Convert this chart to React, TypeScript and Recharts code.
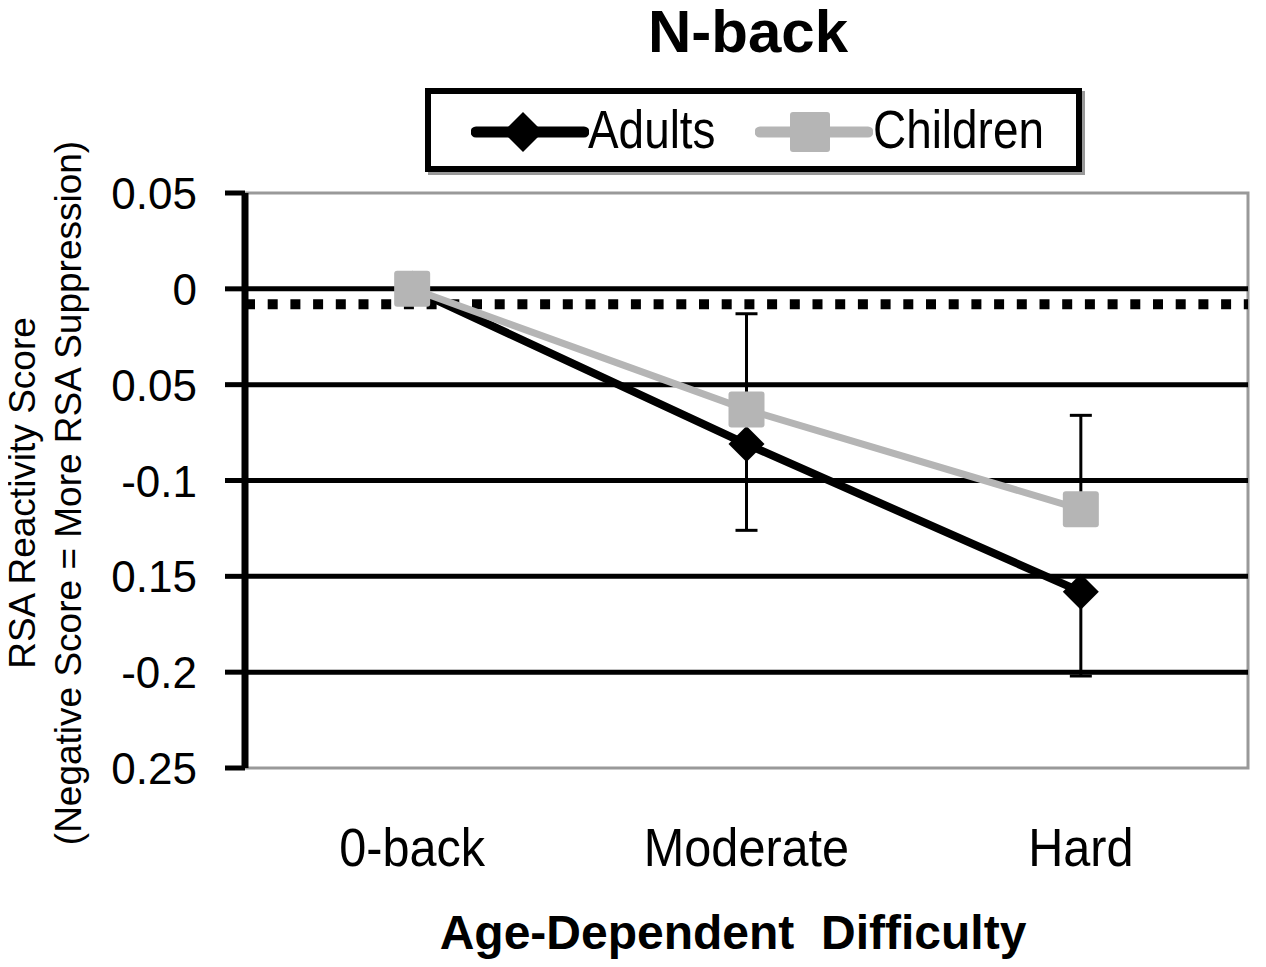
import React from 'react';
import { ComposedChart, Line, XAxis, YAxis, ReferenceLine, ReferenceArea, ErrorBar } from 'recharts';

// values
const categories = ['0-back', 'Moderate', 'Hard'];
const adults = [0, -0.081, -0.158];
const children = [0, -0.063, -0.115];
const adultsErrDown = [0, 0.045, 0.044];
const childrenErrUp = [0, 0.05, 0.049];

const yTicks = [0.05, 0, -0.05, -0.1, -0.15, -0.2, -0.25];
const yTickLabels = ['0.05', '0', '0.05', '-0.1', '0.15', '-0.2', '0.25'];
const gridValues = [0, -0.05, -0.1, -0.15, -0.2];
const dottedValue = -0.008;

const seriesNames = ['Adults', 'Children'];

const BLACK = '#000';
const GRAY = '#b5b5b5';
const SANS = "'Liberation Sans', Arial, sans-serif";

const data = categories.map((cat, i) => ({
  cat,
  adults: adults[i],
  children: children[i],
  adultsErr: [adultsErrDown[i], 0],
  childrenErr: [0, childrenErrUp[i]],
}));

function Diamond({ cx, cy, r = 18 }: any) {
  if (cx == null || cy == null) return null;
  return <polygon points={`${cx},${cy - r} ${cx + r},${cy} ${cx},${cy + r} ${cx - r},${cy}`} fill={BLACK} />;
}

function Square({ cx, cy, s = 36 }: any) {
  if (cx == null || cy == null) return null;
  return <rect x={cx - s / 2} y={cy - s / 2} width={s} height={s} rx={3} fill={GRAY} />;
}

function YTick({ x, y, payload }: any) {
  const idx = yTicks.findIndex((v) => Math.abs(v - payload.value) < 1e-9);
  return (
    <text x={x} y={y} dy={16} textAnchor="end" fontSize={44} fontFamily={SANS} fill={BLACK}>
      {yTickLabels[idx]}
    </text>
  );
}

// condensed look of the original labels
function XTick({ x, y, payload }: any) {
  return (
    <g transform={`translate(${x},${y + 98})`}>
      <text transform="scale(0.9,1)" textAnchor="middle" fontSize={54} fontFamily={SANS} fill={BLACK}>
        {payload.value}
      </text>
    </g>
  );
}

// legend item positions inside the box (px from its inner left edge)
const legendIconLeft = [40, 324];
const legendTextLeft = [157, 442];

function LegendBox() {
  return (
    <div
      style={{
        position: 'absolute',
        left: 417,
        top: 80,
        width: 657,
        height: 84,
        border: '6px solid #000',
        boxSizing: 'border-box',
        boxShadow: '3px 3px 0 #999',
        background: '#fff',
        fontFamily: SANS,
        fontSize: 54,
      }}
    >
      {seriesNames.map((name, i) => (
        <React.Fragment key={name}>
          <svg width={118} height={44} style={{ position: 'absolute', left: legendIconLeft[i], top: 16 }}>
            <line x1={5} y1={22} x2={113} y2={22} stroke={i === 0 ? BLACK : GRAY} strokeWidth={11} strokeLinecap="round" />
            {i === 0 ? <Diamond cx={52} cy={22} r={20} /> : <Square cx={55} cy={22} s={40} />}
          </svg>
          <span
            style={{
              position: 'absolute',
              left: legendTextLeft[i],
              top: 5,
              lineHeight: '60px',
              whiteSpace: 'nowrap',
              transform: 'scaleX(0.85)',
              transformOrigin: 'left center',
            }}
          >
            {name}
          </span>
        </React.Fragment>
      ))}
    </div>
  );
}

export default function App() {
  return (
    <div style={{ position: 'relative', width: 1258, height: 951 }}>
      <ComposedChart width={1258} height={951} data={data} margin={{ top: 185, right: 18, bottom: 91, left: 37 }}>
        <ReferenceArea y1={-0.25} y2={0.05} fill="none" stroke="#999" strokeWidth={3} ifOverflow="visible" />
        {gridValues.map((v) => (
          <ReferenceLine key={v} y={v} stroke={BLACK} strokeWidth={5} />
        ))}
        <ReferenceLine y={dottedValue} stroke={BLACK} strokeWidth={10} strokeDasharray="10 12.7" />
        <XAxis
          dataKey="cat"
          scale="band"
          axisLine={false}
          tickLine={false}
          tickSize={0}
          tickMargin={0}
          height={100}
          tick={<XTick />}
        />
        <YAxis
          type="number"
          domain={[-0.25, 0.05]}
          ticks={yTicks}
          interval={0}
          width={200}
          axisLine={{ stroke: BLACK, strokeWidth: 7 }}
          tickLine={{ stroke: BLACK, strokeWidth: 5 }}
          tickSize={20}
          tickMargin={28}
          tick={<YTick />}
        />
        <Line
          dataKey="adults"
          stroke={BLACK}
          strokeWidth={8}
          dot={(p: any) => <Diamond key={`a${p.index}`} cx={p.cx} cy={p.cy} />}
          activeDot={false}
          isAnimationActive={false}
        >
          <ErrorBar dataKey="adultsErr" direction="y" width={11} stroke={BLACK} strokeWidth={3} />
        </Line>
        <Line
          dataKey="children"
          stroke={GRAY}
          strokeWidth={7}
          dot={(p: any) => <Square key={`c${p.index}`} cx={p.cx} cy={p.cy} />}
          activeDot={false}
          isAnimationActive={false}
        >
          <ErrorBar dataKey="childrenErr" direction="y" width={11} stroke={BLACK} strokeWidth={3} />
        </Line>
      </ComposedChart>

      <div
        style={{
          position: 'absolute',
          left: 440,
          width: 600,
          top: -6,
          textAlign: 'center',
          fontFamily: SANS,
          fontWeight: 'bold',
          fontSize: 60,
          lineHeight: '60px',
        }}
      >
        N-back
      </div>

      <LegendBox />

      <div
        style={{
          position: 'absolute',
          left: 38 - 400,
          top: 485 - 46,
          width: 800,
          height: 92,
          transform: 'rotate(-90deg)',
          textAlign: 'center',
          fontFamily: SANS,
          fontSize: 37,
          lineHeight: '46px',
          whiteSpace: 'pre',
        }}
      >
        {'RSA Reactivity Score\n(Negative Score = More RSA Suppression)'}
      </div>

      <div
        style={{
          position: 'absolute',
          left: 325,
          width: 800,
          top: 901,
          textAlign: 'center',
          fontFamily: SANS,
          fontWeight: 'bold',
          fontSize: 48,
          lineHeight: '48px',
          whiteSpace: 'pre',
        }}
      >
        {'Age-Dependent  Difficulty'}
      </div>
    </div>
  );
}
